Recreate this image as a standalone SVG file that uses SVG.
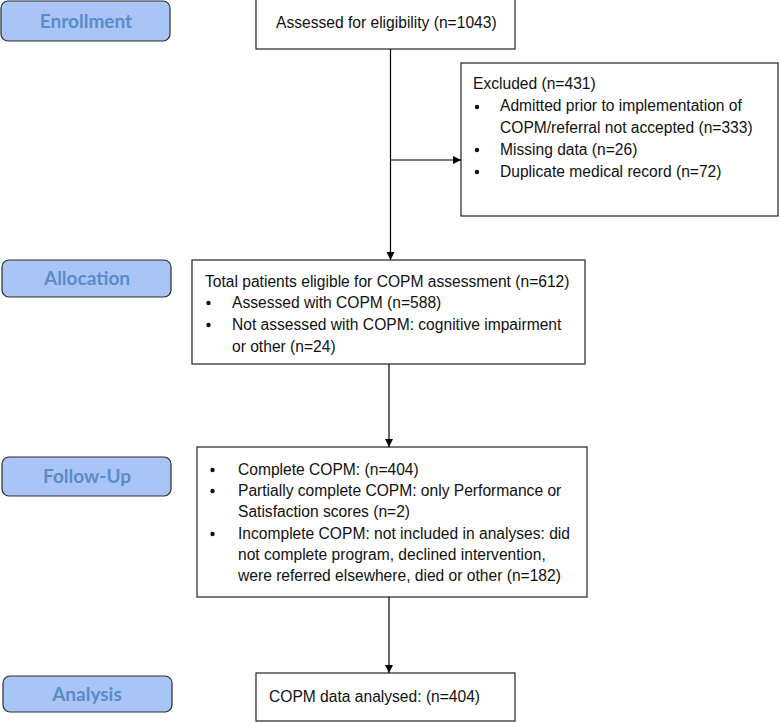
<svg xmlns="http://www.w3.org/2000/svg" width="780" height="722" viewBox="0 0 780 722">
<defs>
<marker id="arr" markerWidth="9" markerHeight="9" refX="8" refY="4" orient="auto" markerUnits="userSpaceOnUse">
<path d="M0,0 L8,4 L0,8 z" fill="#000"/>
</marker>
<style>
.stage rect{fill:#a9c5f6;stroke:#2b2b2b;stroke-width:1.2}
.stage text{font-family:Lato,"Open Sans",sans-serif;font-weight:bold;font-size:19px;fill:#5b8cc8;text-anchor:middle}
.box rect{fill:#fff;stroke:#222;stroke-width:1.2}
.box text{font-family:"Liberation Sans",Arial,sans-serif;font-size:15.6px;fill:#111}
.box circle{fill:#111}
.conn line{stroke:#000;stroke-width:1.2;marker-end:url(#arr)}
</style>
</defs>
<rect width="780" height="722" fill="#fff"/>

<g id="stage-enrollment" class="stage">
<rect x="1" y="1" width="169" height="40" rx="7"/>
<text x="86" y="28">Enrollment</text>
</g>
<g id="stage-allocation" class="stage">
<rect x="2" y="260" width="169" height="37" rx="7"/>
<text x="87" y="285">Allocation</text>
</g>
<g id="stage-followup" class="stage">
<rect x="2" y="457" width="169" height="39" rx="7"/>
<text x="87" y="483">Follow-Up</text>
</g>
<g id="stage-analysis" class="stage">
<rect x="3" y="676" width="169" height="36" rx="7"/>
<text x="87" y="701">Analysis</text>
</g>

<g id="assessed" class="box">
<rect x="256" y="-1" width="259" height="50"/>
<text x="276" y="28">Assessed for eligibility (n=1043)</text>
</g>

<g id="excluded" class="box">
<rect x="461" y="63" width="317" height="153"/>
<text x="473" y="89">Excluded (n=431)</text>
<circle cx="477" cy="107" r="2.2"/>
<text x="500" y="111">Admitted prior to implementation of</text>
<text x="500" y="133">COPM/referral not accepted (n=333)</text>
<circle cx="477" cy="150" r="2.2"/>
<text x="500" y="155">Missing data (n=26)</text>
<circle cx="477" cy="172" r="2.2"/>
<text x="500" y="177">Duplicate medical record (n=72)</text>
</g>

<g id="eligible" class="box">
<rect x="192" y="260" width="393" height="104"/>
<text x="205" y="287">Total patients eligible for COPM assessment (n=612)</text>
<circle cx="208.5" cy="303" r="2.2"/>
<text x="232" y="308">Assessed with COPM (n=588)</text>
<circle cx="208.5" cy="325" r="2.2"/>
<text x="232" y="330">Not assessed with COPM: cognitive impairment</text>
<text x="232" y="352">or other (n=24)</text>
</g>

<g id="followup" class="box">
<rect x="197" y="447" width="390" height="150"/>
<circle cx="212.5" cy="470" r="2.2"/>
<text x="238" y="475">Complete COPM: (n=404)</text>
<circle cx="212.5" cy="491" r="2.2"/>
<text x="238" y="496">Partially complete COPM: only Performance or</text>
<text x="238" y="517">Satisfaction scores (n=2)</text>
<circle cx="212.5" cy="534" r="2.2"/>
<text x="238" y="539">Incomplete COPM: not included in analyses: did</text>
<text x="238" y="560">not complete program, declined intervention,</text>
<text x="238" y="581">were referred elsewhere, died or other (n=182)</text>
</g>

<g id="analysed" class="box">
<rect x="256" y="673" width="259" height="48"/>
<text x="269" y="702">COPM data analysed: (n=404)</text>
</g>

<g id="connectors" class="conn">
<line x1="390.5" y1="49" x2="390.5" y2="260"/>
<line x1="390.5" y1="160" x2="461" y2="160"/>
<line x1="389" y1="364" x2="389" y2="447"/>
<line x1="389" y1="597" x2="389" y2="673"/>
</g>
</svg>
